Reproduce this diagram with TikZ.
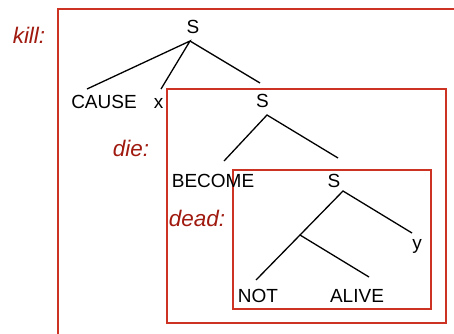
\documentclass[tikz,border=0pt]{standalone}
\usepackage{fontspec}
\setmainfont{Liberation Sans}
\definecolor{boxred}{HTML}{CC3322}
\definecolor{labelred}{HTML}{A01A10}
\tikzset{
  lbl/.style={anchor=base, inner sep=0pt, font=\fontsize{19}{21}\selectfont},
  tag/.style={anchor=base, inner sep=0pt, text=labelred, font=\fontsize{22.5}{25}\selectfont\itshape},
  frame/.style={draw=boxred, line width=1.5pt},
  branch/.style={draw=black, line width=1.3pt}
}
\begin{document}
\begin{tikzpicture}[x=1pt,y=-1pt]
  \useasboundingbox (0,0) rectangle (454,333);
  \clip (0,0) rectangle (454,333);
  \fill[white] (0,0) rectangle (454,333);

  % scope frames
  \draw[frame] (58,9) rectangle (470,350);
  \draw[frame] (167,89) rectangle (446,323);
  \draw[frame] (233,170) rectangle (431,309);

  % scope labels
  \node[tag] (kill) at (29,43.5) {kill:};
  \node[tag] (die) at (131,156) {die:};
  \node[tag] (dead) at (197,226.5) {dead:};

  % tree labels
  \node[lbl] (s1) at (193,33.5) {S};
  \node[lbl] (cause) at (104,108) {CAUSE};
  \node[lbl] (x) at (158.5,108) {x};
  \node[lbl] (s2) at (262.5,107.5) {S};
  \node[lbl] (become) at (213,187) {BECOME};
  \node[lbl] (s3) at (334,187) {S};
  \node[lbl] (y) at (417,249.5) {y};
  \node[lbl] (not) at (258,302.5) {NOT};
  \node[lbl] (alive) at (357,302.5) {ALIVE};

  % branch points
  \coordinate (r1) at (190,41);
  \coordinate (c1) at (87,89);
  \coordinate (c2) at (161,89);
  \coordinate (c3) at (260,83);
  \coordinate (r2) at (267,115);
  \coordinate (d1) at (224,161);
  \coordinate (d2) at (338,158);
  \coordinate (r3) at (343,191);
  \coordinate (m) at (300,235);
  \coordinate (e1) at (412,233);
  \coordinate (n1) at (256,280);
  \coordinate (n2) at (369,277);

  % branches
  \draw[branch] (c1) -- (r1) -- (c2);
  \draw[branch] (r1) -- (c3);
  \draw[branch] (d1) -- (r2) -- (d2);
  \draw[branch] (m) -- (r3) -- (e1);
  \draw[branch] (n1) -- (m) -- (n2);
\end{tikzpicture}
\end{document}
